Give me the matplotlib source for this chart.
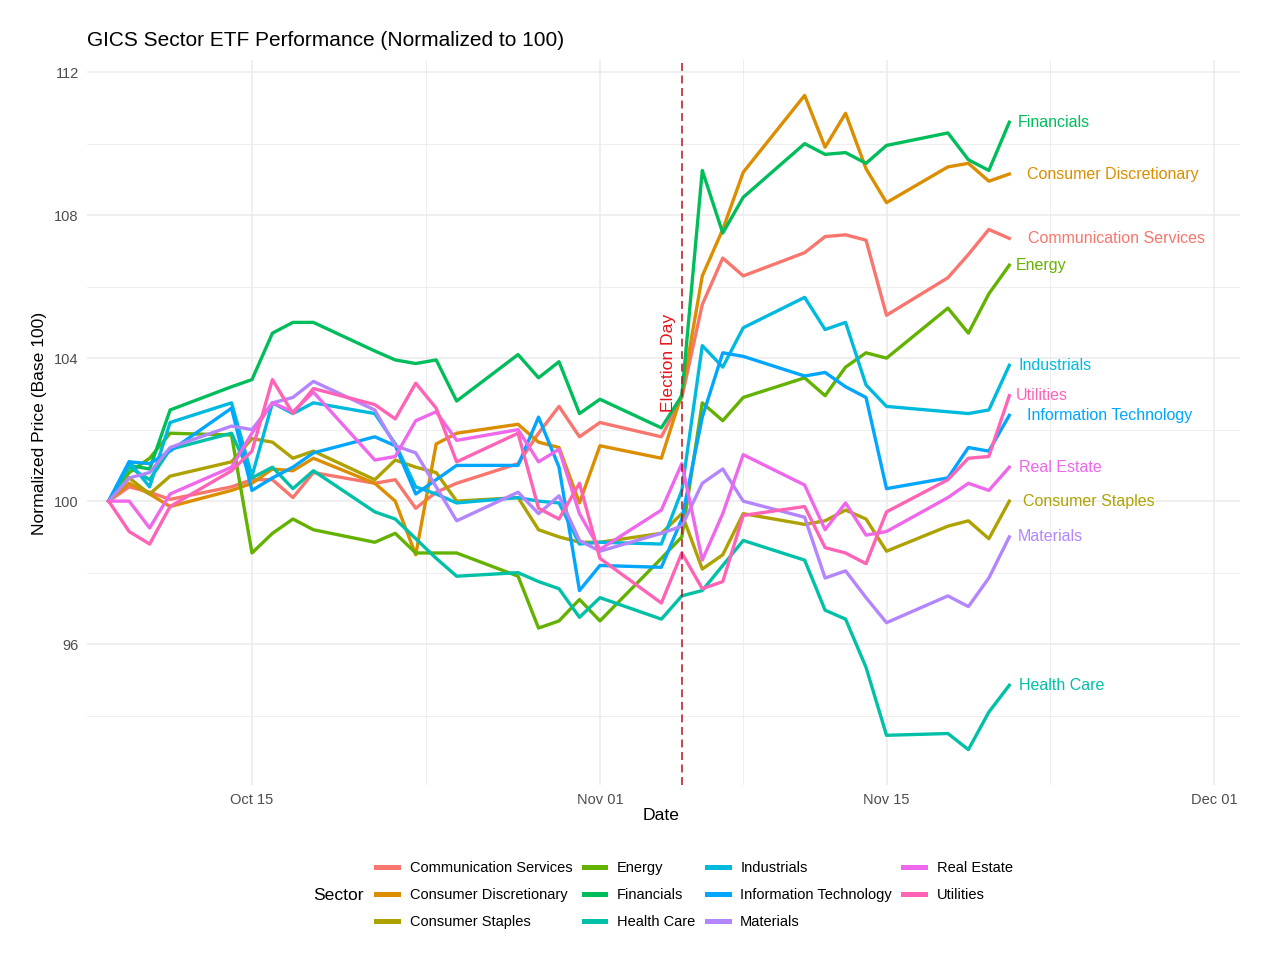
import matplotlib
matplotlib.use("Agg")
import matplotlib.pyplot as plt
from matplotlib.lines import Line2D
import pandas as pd

plt.rcParams['font.family'] = ['Liberation Sans', 'DejaVu Sans']

# trading days, normalized closes (first day = 100)
dates = pd.to_datetime([
    "2024-10-08", "2024-10-09", "2024-10-10", "2024-10-11", "2024-10-14",
    "2024-10-15", "2024-10-16", "2024-10-17", "2024-10-18", "2024-10-21",
    "2024-10-22", "2024-10-23", "2024-10-24", "2024-10-25", "2024-10-28",
    "2024-10-29", "2024-10-30", "2024-10-31", "2024-11-01", "2024-11-04",
    "2024-11-05", "2024-11-06", "2024-11-07", "2024-11-08", "2024-11-11",
    "2024-11-12", "2024-11-13", "2024-11-14", "2024-11-15", "2024-11-18",
    "2024-11-19", "2024-11-20", "2024-11-21"])

comm = [100.0, 100.4, 100.25, 100.05, 100.4, 100.6, 100.6, 100.1, 100.8, 100.5, 100.6,
        99.8, 100.25, 100.5, 101.05, 101.9, 102.65, 101.8, 102.2, 101.8, 102.9, 105.5,
        106.8, 106.3, 106.95, 107.4, 107.45, 107.3, 105.2, 106.25, 106.9, 107.6, 107.35]
disc = [100.0, 100.5, 100.2, 99.85, 100.3, 100.5, 100.9, 100.85, 101.2, 100.5, 100.0,
        98.5, 101.6, 101.9, 102.15, 101.65, 101.5, 99.95, 101.55, 101.2, 103.0, 106.3,
        107.6, 109.2, 111.35, 109.9, 110.85, 109.3, 108.35, 109.35, 109.45, 108.95, 109.15]
stap = [100.0, 100.65, 100.2, 100.7, 101.1, 101.75, 101.65, 101.2, 101.4, 100.6, 101.15,
        100.95, 100.8, 100.0, 100.1, 99.2, 99.0, 98.85, 98.85, 99.1, 99.65, 98.1,
        98.5, 99.65, 99.35, 99.45, 99.75, 99.5, 98.6, 99.3, 99.45, 98.95, 100.0]
energy = [100.0, 100.8, 101.2, 101.9, 101.85, 98.55, 99.1, 99.5, 99.2, 98.85, 99.1,
          98.55, 98.55, 98.55, 97.9, 96.45, 96.65, 97.25, 96.65, 98.4, 99.0, 102.75,
          102.25, 102.9, 103.45, 102.95, 103.75, 104.15, 104.0, 105.4, 104.7, 105.8, 106.6]
fin = [100.0, 101.0, 100.9, 102.55, 103.2, 103.4, 104.7, 105.0, 105.0, 104.2, 103.95,
       103.85, 103.95, 102.8, 104.1, 103.45, 103.9, 102.45, 102.85, 102.05, 102.95, 109.25,
       107.5, 108.5, 110.0, 109.7, 109.75, 109.45, 109.95, 110.3, 109.55, 109.25, 110.6]
health = [100.0, 100.95, 100.6, 101.45, 101.9, 100.65, 100.95, 100.35, 100.85, 99.7, 99.5,
          98.95, 98.4, 97.9, 98.0, 97.75, 97.55, 96.75, 97.3, 96.7, 97.35, 97.5,
          98.2, 98.9, 98.35, 96.95, 96.7, 95.35, 93.45, 93.5, 93.05, 94.1, 94.85]
indu = [100.0, 101.1, 100.4, 102.2, 102.75, 100.7, 102.75, 102.45, 102.75, 102.45, 101.6,
        100.4, 100.2, 99.95, 100.1, 100.0, 99.95, 98.8, 98.85, 98.8, 100.3, 104.35,
        103.75, 104.85, 105.7, 104.8, 105.0, 103.25, 102.65, 102.5, 102.45, 102.55, 103.8]
tech = [100.0, 101.1, 101.05, 101.4, 102.6, 100.3, 100.65, 100.95, 101.35, 101.8, 101.55,
        100.2, 100.6, 101.0, 101.0, 102.35, 100.95, 97.5, 98.2, 98.15, 99.5, 102.35,
        104.15, 104.05, 103.5, 103.6, 103.2, 102.9, 100.35, 100.65, 101.5, 101.4, 102.4]
mat = [100.0, 100.65, 100.8, 101.5, 102.1, 102.0, 102.75, 102.9, 103.35, 102.55, 101.55,
       101.35, 100.4, 99.45, 100.25, 99.65, 100.15, 98.9, 98.6, 99.1, 99.3, 100.5,
       100.9, 100.0, 99.55, 97.85, 98.05, 97.3, 96.6, 97.35, 97.05, 97.85, 99.0]
reit = [100.0, 100.0, 99.25, 100.2, 100.95, 101.9, 102.75, 102.5, 103.05, 101.15, 101.25,
        102.25, 102.5, 101.7, 102.0, 101.1, 101.45, 99.65, 98.65, 99.75, 101.05, 98.35,
        99.65, 101.3, 100.45, 99.2, 99.95, 99.05, 99.15, 100.1, 100.5, 100.3, 100.95]
util = [100.0, 99.15, 98.8, 99.85, 100.85, 101.4, 103.4, 102.45, 103.15, 102.7, 102.3,
        103.3, 102.6, 101.1, 101.9, 99.8, 99.5, 100.5, 98.4, 97.15, 98.55, 97.55,
        97.75, 99.6, 99.85, 98.7, 98.55, 98.25, 99.7, 100.6, 101.2, 101.25, 102.95]

sectors = ["Communication Services", "Consumer Discretionary", "Consumer Staples",
           "Energy", "Financials", "Health Care", "Industrials",
           "Information Technology", "Materials", "Real Estate", "Utilities"]
values = [comm, disc, stap, energy, fin, health, indu, tech, mat, reit, util]
colors = ["#F8766D", "#DB8E00", "#AEA200", "#64B200", "#00BD5C", "#00C1A7",
          "#00BADE", "#00A6FF", "#B385FF", "#EF67EB", "#FF63B6"]
# horizontal nudge of the end labels (pixels)
label_dx = [19, 18, 14, 6, 8, 10, 9, 18, 8, 10, 6]

election = pd.Timestamp("2024-11-05")

W, H = 1273, 967
fig = plt.figure(figsize=(W / 100, H / 100), dpi=100)
ax = fig.add_axes([87 / W, 1 - 785 / H, (1240 - 87) / W, (785 - 60) / H])

ref = pd.Timestamp("2024-10-15")
ax.set_xlim(ref - pd.Timedelta(days=8.06), ref + pd.Timedelta(days=48.27))
ax.set_ylim(92.06, 112.34)

ax.set_yticks([96, 100, 104, 108, 112])
ax.set_yticks([94, 98, 102, 106, 110], minor=True)
ax.set_xticks(pd.to_datetime(["2024-10-15", "2024-11-01", "2024-11-15", "2024-12-01"]))
ax.set_xticks([pd.Timestamp("2024-10-23 12:00"), pd.Timestamp("2024-11-08"),
               pd.Timestamp("2024-11-23")], minor=True)
ax.set_xticklabels(["Oct 15", "Nov 01", "Nov 15", "Dec 01"])
ax.grid(which="major", color="#EBEBEB", lw=1.1)
ax.grid(which="minor", color="#EBEBEB", lw=0.6)
ax.set_axisbelow(True)
for s in ax.spines.values():
    s.set_visible(False)
ax.tick_params(which="both", length=0, labelsize=10.5, labelcolor="#4D4D4D")
ax.tick_params(axis="y", pad=6)
ax.tick_params(axis="x", pad=6)

for name, vals, c, dx in zip(sectors, values, colors, label_dx):
    ax.plot(dates, vals, color=c, lw=2.4)
    ax.annotate(name, (dates[-1], vals[-1]), xytext=(dx, 0), textcoords="offset pixels",
                ha="left", va="center", color=c, fontsize=11.5)

ax.axvline(election, color="#b8141c", lw=1.1, ls=(0, (5.2, 3)))
ax.annotate("Election Day", (election, 103.87), xytext=(-13, 0), textcoords="offset pixels",
            rotation=90, ha="center", va="center", color="#e8141c", fontsize=12.6)

fig.text(87 / W, 1 - 41 / H, "GICS Sector ETF Performance (Normalized to 100)",
         fontsize=15, va="center", ha="left")
fig.text(661 / W, 1 - 816 / H, "Date", fontsize=12.6, ha="center", va="center")
fig.text(40 / W, 1 - 423 / H, "Normalized Price (Base 100)", fontsize=12.6,
         rotation=90, ha="center", va="center")

handles = [Line2D([], [], color=c, lw=3.6) for c in colors]
fig.legend(handles, sectors, loc="upper left", bbox_to_anchor=(376 / W, 1 - 861 / H),
           ncol=4, frameon=False, fontsize=10.5, handlelength=1.5, handletextpad=0.8,
           columnspacing=0.78, labelspacing=0.9, borderpad=0, borderaxespad=0)
fig.text(313 / W, 1 - 895 / H, "Sector", fontsize=12.6, ha="left", va="center")

fig.savefig("out.png", dpi=100)
